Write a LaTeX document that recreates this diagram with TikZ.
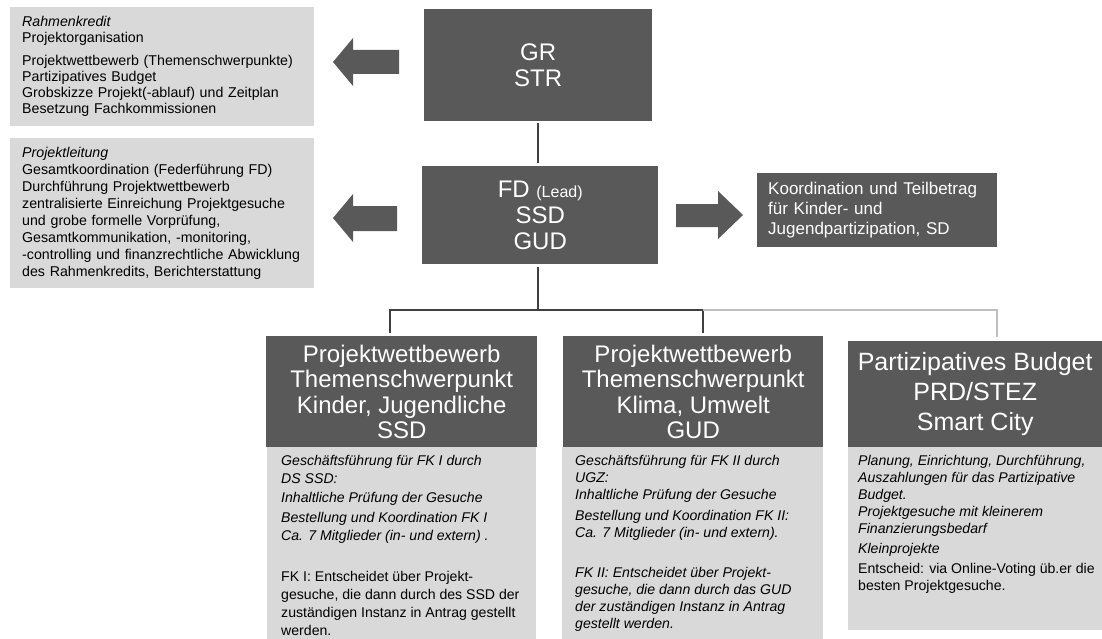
\documentclass[tikz,border=0pt]{standalone}
\usepackage{fontspec}
\setmainfont{Liberation Sans}
\usepackage{tikz}

\definecolor{boxdark}{HTML}{595959}
\definecolor{boxlight}{HTML}{D9D9D9}
\definecolor{linedark}{HTML}{404040}
\definecolor{linelight}{HTML}{BFBFBF}

\tikzset{
  darkbox/.style={fill=boxdark, text=white, anchor=north west, inner sep=0pt, align=center},
  lightbox/.style={fill=boxlight, anchor=north west, inner sep=0pt},
  infotext/.style={anchor=north west, inner sep=0pt, align=left},
  link/.style={draw=linedark, line width=2pt},
  faintlink/.style={draw=linelight, line width=1.5pt},
  blockarrow/.style={fill=boxdark}
}

\begin{document}
\begin{tikzpicture}[x=1pt, y=-1pt]
\useasboundingbox (0,0) rectangle (1102,639);

% left: Rahmenkredit and Projektleitung
\node[lightbox, minimum width=304pt, minimum height=119pt, inner xsep=12pt, text width=280pt,
      align=left, font=\fontsize{14.2}{16}\selectfont] (rahmen) at (10,7) {
  \textit{Rahmenkredit}\\
  Projektorganisation\\[7pt]
  Projektwettbewerb (Themenschwerpunkte)\\
  Partizipatives Budget\\
  Grobskizze Projekt(-ablauf) und Zeitplan\\
  Besetzung Fachkommissionen};
\node[lightbox, minimum width=304pt, minimum height=150pt, inner xsep=12pt, text width=280pt,
      align=left, font=\fontsize{14.2}{17}\selectfont] (leitung) at (10,138) {
  \textit{Projektleitung}\\
  Gesamtkoordination (Federführung FD)\\
  Durchführung Projektwettbewerb\\
  zentralisierte Einreichung Projektgesuche\\
  und grobe formelle Vorprüfung,\\
  Gesamtkommunikation, -monitoring,\\
  -controlling und finanzrechtliche Abwicklung\\
  des Rahmenkredits, Berichterstattung};

\fill[blockarrow] (333,62) -- (353,38) -- (353,50) -- (399,50) -- (399,74) -- (353,74) -- (353,86) -- cycle;
\fill[blockarrow] (333,218) -- (353,194) -- (353,206) -- (397,206) -- (397,231) -- (353,231) -- (353,242) -- cycle;

% centre column
\node[darkbox, minimum width=228pt, minimum height=112pt, font=\fontsize{24}{26}\selectfont] (gr) at (424,9) {GR\\STR};
\node[darkbox, minimum width=236pt, minimum height=98pt, font=\fontsize{24}{26}\selectfont] (fd) at (422,166)
  {FD {\fontsize{16}{18}\selectfont(Lead)}\\SSD\\GUD};

\fill[blockarrow] (676,204) -- (718,204) -- (718,191) -- (743,215) -- (718,239) -- (718,227) -- (676,227) -- cycle;
\node[darkbox, minimum width=240pt, minimum height=74pt, inner xsep=11pt, text width=218pt,
      align=left, font=\fontsize{17}{20}\selectfont] (koord) at (757,173)
  {Koordination und Teilbetrag\\für Kinder- und\\Jugendpartizipation, SD};

% three branches
\node[darkbox, minimum width=271pt, minimum height=111pt, font=\fontsize{24}{25.5}\selectfont] (kinder) at (266,336)
  {Projektwettbewerb\\Themenschwerpunkt\\Kinder, Jugendliche\\SSD};
\node[darkbox, minimum width=260pt, minimum height=111pt, font=\fontsize{24}{25.5}\selectfont] (klima) at (563,336)
  {Projektwettbewerb\\Themenschwerpunkt\\Klima, Umwelt\\GUD};
\node[darkbox, minimum width=254pt, minimum height=106pt, font=\fontsize{25}{30}\selectfont] (budget) at (848,341)
  {Partizipatives Budget\\PRD/STEZ\\Smart City};

\node[lightbox, minimum width=269pt, minimum height=192pt] (kinderbody) at (267,447) {};
\node[lightbox, minimum width=261pt, minimum height=192pt] (klimabody) at (562,447) {};
\node[lightbox, minimum width=254pt, minimum height=183pt] (budgetbody) at (848,447) {};

\node[infotext, font=\fontsize{14.1}{18}\selectfont] (kindertext) at (281,455) {
  \textit{Geschäftsführung für FK I durch}\\
  \textit{DS SSD:}\\[1pt]
  \textit{Inhaltliche Prüfung der Gesuche}\\[2pt]
  \textit{Bestellung und Koordination FK I}\\
  \textit{Ca. 7 Mitglieder (in- und extern) .}\\[23pt]
  FK I: Entscheidet über Projekt-\\
  gesuche, die dann durch des SSD der\\
  zuständigen Instanz in Antrag gestellt\\
  werden.};
\node[infotext, font=\itshape\fontsize{14.1}{17}\selectfont] (klimatext) at (575,455) {
  Geschäftsführung für FK II durch\\
  UGZ:\\
  Inhaltliche Prüfung der Gesuche\\[4pt]
  Bestellung und Koordination FK II:\\
  Ca. 7 Mitglieder (in- und extern).\\[23pt]
  FK II: Entscheidet über Projekt-\\
  gesuche, die dann durch das GUD\\
  der zuständigen Instanz in Antrag\\
  gestellt werden.};
\node[infotext, font=\fontsize{14.1}{17}\selectfont] (budgettext) at (858,455) {
  \textit{Planung, Einrichtung, Durchführung,}\\
  \textit{Auszahlungen für das Partizipative}\\
  \textit{Budget.}\\
  \textit{Projektgesuche mit kleinerem}\\
  \textit{Finanzierungsbedarf}\\[3pt]
  \textit{Kleinprojekte}\\[3pt]
  Entscheid: via Online-Voting üb.er die\\
  besten Projektgesuche.};

% connectors
\coordinate (trunk) at (538,310);
\coordinate (j1) at (390,310);
\coordinate (j2) at (703,310);
\coordinate (j3) at (997,310);
\draw[link, shorten <=2pt, shorten >=3pt] (gr.south -| trunk) -- (fd.north -| trunk);
\draw[link, shorten <=3pt] (fd.south -| trunk) -- (trunk);
\draw[link, shorten <=3pt, shorten >=3pt] (kinder.north -| j1) -- (j1) -- (j2) -- (klima.north -| j2);
\draw[faintlink, shorten >=4pt] (j2) -- (j3) -- (budget.north -| j3);
\end{tikzpicture}
\end{document}
